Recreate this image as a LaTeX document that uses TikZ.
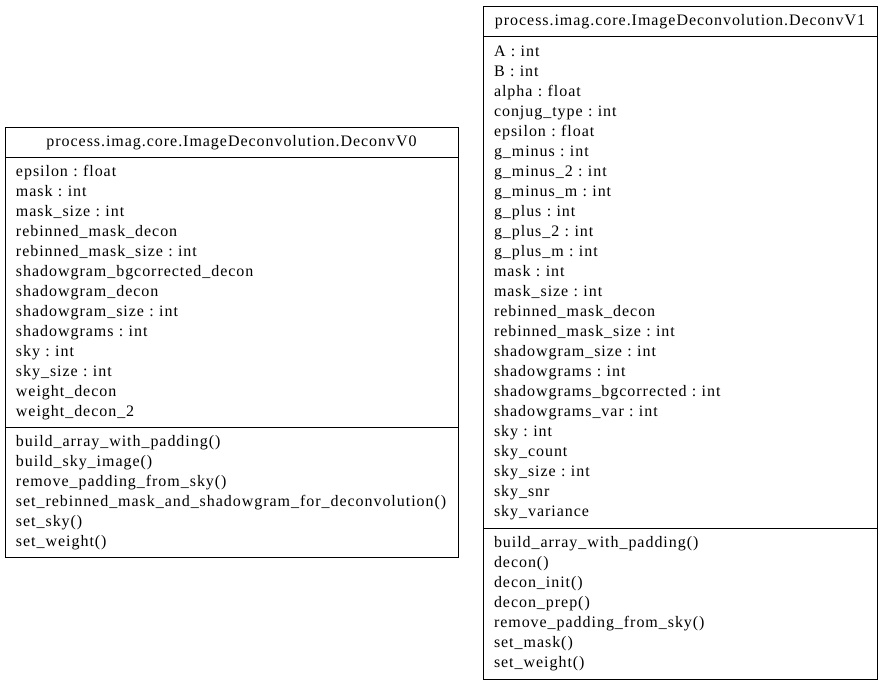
\documentclass[tikz,border=0pt]{standalone}
\usepackage{fontspec}
\setmainfont{Liberation Serif}[LetterSpace=6]
\usepackage{tikz}
\usetikzlibrary{positioning}

\tikzset{
    classbox/.style={draw, line width=1pt, inner sep=0pt, outer sep=0pt,
        font=\fontsize{16}{20}\selectfont\frenchspacing,
        execute at begin node=\strut, execute at end node=\strut},
    classhead/.style={classbox, minimum height=30pt},
    classbody/.style={classbox, align=left, inner xsep=11pt},
}

\begin{document}
\begin{tikzpicture}[x=1pt, y=-1pt]
    \useasboundingbox (0,0) rectangle (883,685);

    % DeconvV0
    \node [classhead, minimum width=453pt, anchor=north west] (v0) at (5,127)
        {process.imag.core.ImageDeconvolution.DeconvV0};
    \node [classbody, text width=431pt, minimum height=270pt, below=0pt of v0] (v0attr)
        {epsilon : float\\
         mask : int\\
         mask\_size : int\\
         rebinned\_mask\_decon\\
         rebinned\_mask\_size : int\\
         shadowgram\_bgcorrected\_decon\\
         shadowgram\_decon\\
         shadowgram\_size : int\\
         shadowgrams : int\\
         sky : int\\
         sky\_size : int\\
         weight\_decon\\
         weight\_decon\_2};
    \node [classbody, text width=431pt, minimum height=130pt, below=0pt of v0attr] (v0meth)
        {build\_array\_with\_padding()\\
         build\_sky\_image()\\
         remove\_padding\_from\_sky()\\
         set\_rebinned\_mask\_and\_shadowgram\_for\_deconvolution()\\
         set\_sky()\\
         set\_weight()};

    % DeconvV1
    \node [classhead, minimum width=394pt, anchor=north west] (v1) at (483,7)
        {process.imag.core.ImageDeconvolution.DeconvV1};
    \node [classbody, text width=372pt, minimum height=491pt, below=0pt of v1] (v1attr)
        {A : int\\
         B : int\\
         alpha : float\\
         conjug\_type : int\\
         epsilon : float\\
         g\_minus : int\\
         g\_minus\_2 : int\\
         g\_minus\_m : int\\
         g\_plus : int\\
         g\_plus\_2 : int\\
         g\_plus\_m : int\\
         mask : int\\
         mask\_size : int\\
         rebinned\_mask\_decon\\
         rebinned\_mask\_size : int\\
         shadowgram\_size : int\\
         shadowgrams : int\\
         shadowgrams\_bgcorrected : int\\
         shadowgrams\_var : int\\
         sky : int\\
         sky\_count\\
         sky\_size : int\\
         sky\_snr\\
         sky\_variance};
    \node [classbody, text width=372pt, minimum height=151pt, below=0pt of v1attr] (v1meth)
        {build\_array\_with\_padding()\\
         decon()\\
         decon\_init()\\
         decon\_prep()\\
         remove\_padding\_from\_sky()\\
         set\_mask()\\
         set\_weight()};
\end{tikzpicture}
\end{document}
